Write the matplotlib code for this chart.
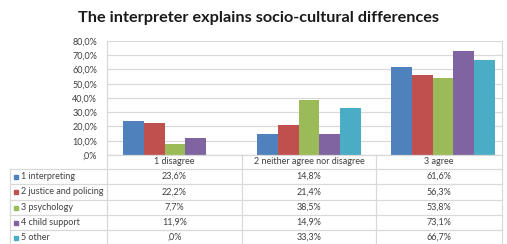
import matplotlib
matplotlib.use("Agg")
import matplotlib.pyplot as plt
from matplotlib.patches import Rectangle
from matplotlib.lines import Line2D

categories = ["1 disagree", "2 neither agree nor disagree", "3 agree"]
series = ["1 interpreting", "2 justice and policing", "3 psychology", "4 child support", "5 other"]
values = [
    [23.6, 14.8, 61.6],
    [22.2, 21.4, 56.3],
    [7.7, 38.5, 53.8],
    [11.9, 14.9, 73.1],
    [0.0, 33.3, 66.7],
]
yticks = [0, 10, 20, 30, 40, 50, 60, 70, 80]
colors = ["#4F81BD", "#C0504D", "#9BBB59", "#8064A2", "#4BACC6"]

W, H = 507, 244
fig = plt.figure(figsize=(W / 100, H / 100), dpi=100)
plt.rcParams['font.family'] = ['Lato', 'DejaVu Sans']

def fx(x):
    return x / W

def fy(y):
    return 1 - y / H

txtc = "#404040"
gridc = "#D9D9D9"
fs = 6.5

ax_left, ax_right, ax_top, ax_bot = 107, 502, 41, 155
ax = fig.add_axes([fx(ax_left), fy(ax_bot), (ax_right - ax_left) / W, (ax_bot - ax_top) / H])

# data x-limits so that category centres match the reference
xmin, xmax = -0.507, 2.44
ax.set_xlim(xmin, xmax)
ax.set_ylim(0, 80)

nb = len(series)
bw = 0.154
for i, (s, vals) in enumerate(zip(series, values)):
    xs = [c + (i - (nb - 1) / 2) * bw for c in range(len(categories))]
    ax.bar(xs, vals, width=bw, color=colors[i], zorder=3, linewidth=0)

ax.set_yticks(yticks)
ax.set_yticklabels([("%.1f%%" % v).replace(".", ",") if v else ",0%" for v in yticks],
                   fontsize=fs, color=txtc)
ax.set_xticks([])
ax.tick_params(axis='y', length=0, pad=7)
ax.grid(axis='y', color=gridc, linewidth=0.9, zorder=0)
for sp in ["top", "bottom"]:
    ax.spines[sp].set_visible(False)
for sp in ["left", "right"]:
    ax.spines[sp].set_color(gridc)
    ax.spines[sp].set_linewidth(0.9)

# title
fig.text(fx(258), fy(18), "The interpreter explains socio-cultural differences",
         ha="center", va="center", fontsize=11.7, fontweight="bold", color="#1a1a1a")

# table
def data_to_px(xd):
    return ax_left + (xd - xmin) / (xmax - xmin) * (ax_right - ax_left)

rows = [155, 169, 184, 200, 215, 230, 245]
tleft = 10
col_edges = [tleft, 107, data_to_px(0.5), data_to_px(1.5), ax_right]

def hline(y, x0, x1):
    fig.add_artist(Line2D([fx(x0), fx(x1)], [fy(y), fy(y)], color=gridc, linewidth=0.9))

def vline(x, y0, y1):
    fig.add_artist(Line2D([fx(x), fx(x)], [fy(y0), fy(y1)], color=gridc, linewidth=0.9))

hline(rows[0], 107, ax_right)
for y in rows[1:]:
    hline(y, tleft, ax_right)
vline(tleft, rows[1], rows[-1])
for x in col_edges[1:]:
    vline(x, rows[0], rows[-1])

# header
for j, c in enumerate(categories):
    cx = (col_edges[j + 1] + col_edges[j + 2]) / 2
    fig.text(fx(cx), fy((rows[0] + rows[1]) / 2), c, ha="center", va="center",
             fontsize=fs, color=txtc)

for i, s in enumerate(series):
    yc = (rows[i + 1] + rows[i + 2]) / 2
    fig.add_artist(Rectangle((fx(14), fy(yc + 2)), 4 / W, 4 / H, color=colors[i],
                             transform=fig.transFigure))
    fig.text(fx(21), fy(yc), s, ha="left", va="center", fontsize=fs, color=txtc)
    for j in range(len(categories)):
        cx = (col_edges[j + 1] + col_edges[j + 2]) / 2
        v = values[i][j]
        lab = ("%.1f%%" % v).replace(".", ",") if v else ",0%"
        fig.text(fx(cx), fy(yc), lab, ha="center", va="center", fontsize=fs, color=txtc)

fig.savefig("out.png", dpi=100)
